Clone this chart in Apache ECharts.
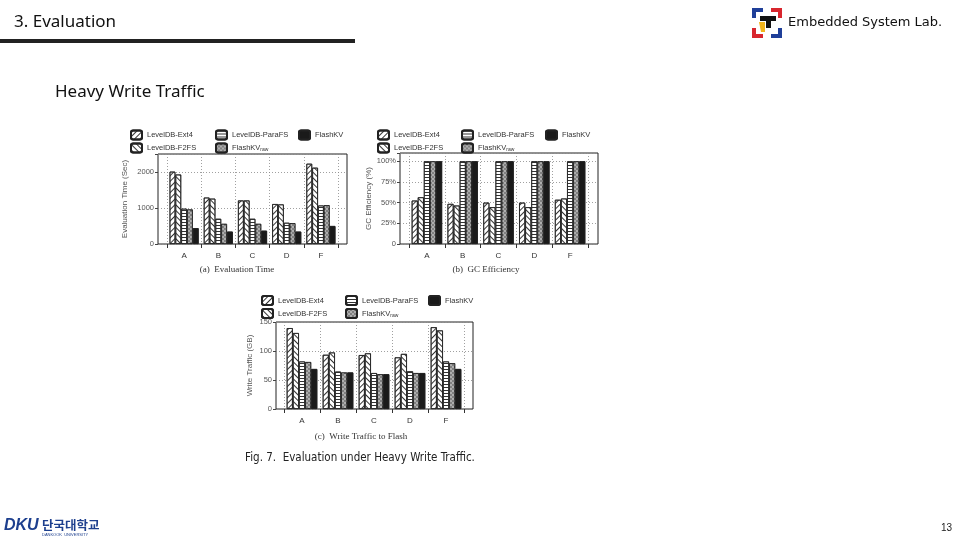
<!DOCTYPE html>
<html>
<head>
<meta charset="utf-8">
<script src="https://cdn.jsdelivr.net/npm/echarts@6/dist/echarts.min.js"></script>
<style>html,body{margin:0;padding:0;background:#fff}#c{width:960px;height:540px}</style>
</head>
<body>
<div id="c"></div>
<script>
// ---- data ----
const categories = ['A', 'B', 'C', 'D', 'F'];
const seriesNames = ['LevelDB-Ext4', 'LevelDB-F2FS', 'LevelDB-ParaFS', 'FlashKV_raw', 'FlashKV'];
// (a) Evaluation Time (Sec)
const timeExt4   = [2010, 1290, 1210, 1110, 2230];
const timeF2FS   = [1930, 1260, 1210, 1100, 2120];
const timeParaFS = [980, 700, 700, 590, 1070];
const timeRaw    = [960, 560, 560, 580, 1080];
const timeKV     = [440, 345, 370, 345, 500];
// (b) GC Efficiency (%)
const gcExt4   = [52.5, 48.5, 50, 50, 53.5];
const gcF2FS   = [56.5, 46.5, 44.5, 44.5, 55];
const gcParaFS = [100, 100, 100, 100, 100];
const gcRaw    = [100, 100, 100, 100, 100];
const gcKV     = [100, 100, 100, 100, 100];
// (c) Write Traffic (GB)
const wtExt4   = [139.5, 93.5, 93, 89, 141];
const wtF2FS   = [131, 97.5, 96, 95, 135.5];
const wtParaFS = [82, 64.5, 62, 65, 82];
const wtRaw    = [81, 63, 60, 62, 79];
const wtKV     = [69, 63, 60, 62, 69];
// tick labels
const ticksTime = [0, 1000, 2000];
const ticksGC = [0, 25, 50, 75, 100];
const ticksWT = [0, 50, 100, 150];

// ---- styles ----
const ink = '#222';
const styles = [
  { color: '#fff', borderColor: ink, borderWidth: 0.8,
    decal: { symbol: 'rect', symbolSize: 1, dashArrayX: [1, 0], dashArrayY: [0.8, 2.8], rotation: -Math.PI / 4, color: '#333' } },
  { color: '#fff', borderColor: ink, borderWidth: 0.8,
    decal: { symbol: 'rect', symbolSize: 1, dashArrayX: [1, 0], dashArrayY: [0.8, 2.8], rotation: Math.PI / 4, color: '#333' } },
  { color: '#fff', borderColor: ink, borderWidth: 0.8,
    decal: { symbol: 'rect', symbolSize: 1, dashArrayX: [1, 0], dashArrayY: [0.9, 2], rotation: 0, color: '#333' } },
  { color: '#808080', borderColor: ink, borderWidth: 0.8,
    decal: { symbol: 'circle', symbolSize: 0.9, dashArrayX: [[2, 2], [0, 2, 2, 0]], dashArrayY: [2, 0], rotation: 0, color: '#c4c4c4' } },
  { color: '#1a1a1a', borderColor: ink, borderWidth: 0.8,
    decal: { symbol: 'rect', symbolSize: 1, dashArrayX: [1, 0], dashArrayY: [1, 0], color: '#1a1a1a' } }
];

const chartDefs = [
  { frame: { left: 158, top: 154, width: 189, height: 90 }, data: { left: 167, width: 171 },
    max: 2500, ticks: ticksTime, name: 'Evaluation Time (Sec)', nameGap: 29, fmt: v => String(v),
    values: [timeExt4, timeF2FS, timeParaFS, timeRaw, timeKV] },
  { frame: { left: 400, top: 153, width: 198, height: 91 }, data: { left: 409, width: 179 },
    max: 110, ticks: ticksGC, name: 'GC Efficiency (%)', nameGap: 21, fmt: v => v === 0 ? '0' : v + '%',
    values: [gcExt4, gcF2FS, gcParaFS, gcRaw, gcKV] },
  { frame: { left: 276, top: 322, width: 197, height: 87 }, data: { left: 284, width: 180 },
    max: 150, ticks: ticksWT, name: 'Write Traffic (GB)', nameGap: 22, fmt: v => String(v),
    values: [wtExt4, wtF2FS, wtParaFS, wtRaw, wtKV] }
];

const grid = [], xAxis = [], yAxis = [], series = [];
chartDefs.forEach((d, i) => {
  const f = d.frame;
  grid.push({ left: f.left, top: f.top, width: f.width, height: f.height, show: true,
    borderColor: ink, borderWidth: 1, backgroundColor: 'transparent', z: 0 });
  grid.push({ left: d.data.left, top: f.top, width: d.data.width, height: f.height });
  const fg = 2 * i, dg = 2 * i + 1;
  xAxis.push({ type: 'value', gridIndex: fg, min: 0, max: 1, show: false });
  yAxis.push({ type: 'value', gridIndex: fg, min: 0, max: d.max, interval: d.ticks[1],
    name: d.name, nameLocation: 'middle', nameGap: d.nameGap,
    nameTextStyle: { fontSize: 8, color: '#555', fontFamily: 'Liberation Sans' },
    axisLine: { show: false },
    axisTick: { show: true, length: 3, lineStyle: { color: '#444' } },
    axisLabel: { fontSize: 7.5, color: '#555', margin: 4, fontFamily: 'Liberation Sans', hideOverlap: false,
      formatter: v => d.ticks.indexOf(v) >= 0 ? d.fmt(v) : '' },
    splitLine: { show: true, lineStyle: { color: '#888', type: [1, 2], width: 0.8 } } });
  xAxis.push({ type: 'category', gridIndex: dg, data: categories,
    axisLine: { show: false },
    axisTick: { show: true, length: 4, lineStyle: { color: '#333' } },
    axisLabel: { fontSize: 8, color: '#333', margin: 8, fontFamily: 'Liberation Sans' },
    splitLine: { show: true, lineStyle: { color: '#888', type: [1, 2], width: 0.8 } } });
  yAxis.push({ type: 'value', gridIndex: dg, min: 0, max: d.max, show: false, splitLine: { show: false } });
  d.values.forEach((vals, k) => {
    series.push({ type: 'bar', name: seriesNames[k], xAxisIndex: 2 * i + 1, yAxisIndex: 2 * i + 1,
      data: vals, barGap: '0%', barCategoryGap: '15%', itemStyle: styles[k], emphasis: { disabled: true },
      animation: false });
  });
});

// legends: three columns per chart
const legendCols = [
  [[130, 215, 298], 129.5],
  [[377, 461, 545], 129.5],
  [[261, 345, 428], 295]
];
const colNames = [[seriesNames[0], seriesNames[1]], [seriesNames[2], seriesNames[3]], [seriesNames[4]]];
const legend = [];
legendCols.forEach(([xs, top]) => {
  xs.forEach((x, c) => {
    legend.push({ left: x, top: top, padding: 0, orient: 'vertical', itemWidth: 11, itemHeight: 9, itemGap: 2,
      icon: 'roundRect', data: colNames[c], selectedMode: false,
      formatter: n => n === 'FlashKV_raw' ? 'FlashKV{s|raw}' : n,
      textStyle: { fontSize: 7.5, lineHeight: 9, color: '#333', fontFamily: 'Liberation Sans',
        rich: { s: { fontSize: 5, lineHeight: 9, color: '#333', padding: [4, 0, 0, 0] } } } });
  });
});

const sans = 'Noto Sans';
const graphic = [
  { type: 'text', left: 14, top: 14, style: { text: '3. Evaluation', fontSize: 17, fontFamily: sans, fill: '#111' } },
  { type: 'rect', shape: { x: 0, y: 39, width: 355, height: 4 }, style: { fill: '#222' } },
  { type: 'text', left: 55, top: 84, style: { text: 'Heavy Write Traffic', fontSize: 17, fontFamily: sans, fill: '#111' } },
  { type: 'text', left: 788, top: 16, style: { text: 'Embedded System Lab.', fontSize: 13, fontFamily: 'DejaVu Sans', fill: '#111' } },
  // logo
  { type: 'rect', shape: { x: 752, y: 8, width: 11, height: 4 }, style: { fill: '#1f3f99' } },
  { type: 'rect', shape: { x: 752, y: 8, width: 4, height: 10 }, style: { fill: '#1f3f99' } },
  { type: 'rect', shape: { x: 771, y: 8, width: 11, height: 4 }, style: { fill: '#d8262e' } },
  { type: 'rect', shape: { x: 778, y: 8, width: 4, height: 10 }, style: { fill: '#d8262e' } },
  { type: 'rect', shape: { x: 752, y: 28, width: 4, height: 10 }, style: { fill: '#d8262e' } },
  { type: 'rect', shape: { x: 752, y: 34, width: 11, height: 4 }, style: { fill: '#d8262e' } },
  { type: 'rect', shape: { x: 778, y: 28, width: 4, height: 10 }, style: { fill: '#1f3f99' } },
  { type: 'rect', shape: { x: 771, y: 34, width: 11, height: 4 }, style: { fill: '#1f3f99' } },
  { type: 'rect', shape: { x: 760, y: 16, width: 16, height: 5 }, style: { fill: '#111' } },
  { type: 'rect', shape: { x: 766, y: 16, width: 5, height: 12 }, style: { fill: '#111' } },
  { type: 'polygon', shape: { points: [[759, 22], [765, 22], [765, 32], [761, 32]] }, style: { fill: '#f2b51c' } },
  // captions
  { type: 'text', x: 237, y: 270, style: { text: '(a)  Evaluation Time', fontSize: 9, fontFamily: 'Liberation Serif', fill: '#333', align: 'center', verticalAlign: 'middle' } },
  { type: 'text', x: 486, y: 270, style: { text: '(b)  GC Efficiency', fontSize: 9, fontFamily: 'Liberation Serif', fill: '#333', align: 'center', verticalAlign: 'middle' } },
  { type: 'text', x: 361, y: 437, style: { text: '(c)  Write Traffic to Flash', fontSize: 9, fontFamily: 'Liberation Serif', fill: '#333', align: 'center', verticalAlign: 'middle' } },
  { type: 'text', x: 360, y: 458, style: { text: 'Fig. 7.  Evaluation under Heavy Write Traffic.', fontSize: 11.5, fontFamily: 'Liberation Sans Narrow, DejaVu Sans Condensed, Liberation Sans', fill: '#222', align: 'center', verticalAlign: 'middle' } },
  // footer
  { type: 'text', left: 4, top: 518, style: { text: 'DKU', fontSize: 16, fontWeight: 'bold', fontStyle: 'italic', fontFamily: 'Liberation Sans', fill: '#1d3f8e' } },
  { type: 'text', left: 42, top: 519, style: { text: '단국대학교', fontSize: 12.5, fontWeight: 'bold', fontFamily: 'Noto Sans CJK KR', fill: '#1d3f8e' } },
  { type: 'text', left: 42, top: 533, style: { text: 'DANKOOK  UNIVERSITY', fontSize: 4, fontFamily: 'Liberation Sans', fill: '#1d3f8e' } },
  { type: 'text', right: 8, top: 523, style: { text: '13', fontSize: 10, fontFamily: 'Liberation Sans', fill: '#222' } }
];

const chart = echarts.init(document.getElementById('c'), null, { renderer: 'canvas' });
chart.setOption({
  backgroundColor: '#fff',
  animation: false,
  aria: { enabled: true, label: { enabled: false }, decal: { show: true } },
  grid, xAxis, yAxis, series, legend, graphic
});
</script>
</body>
</html>
